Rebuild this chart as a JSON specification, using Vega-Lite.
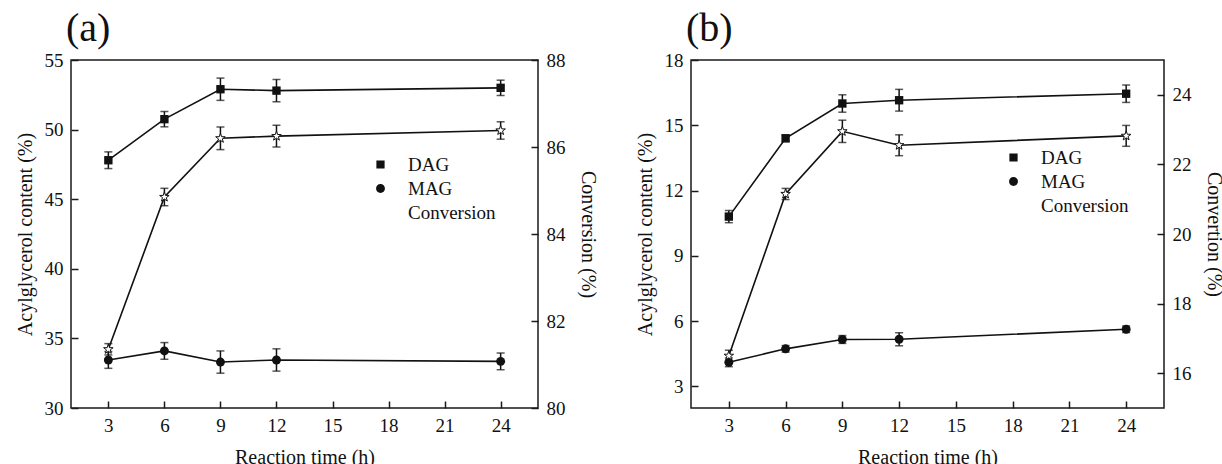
{
  "$schema": "https://vega.github.io/schema/vega-lite/v6.json",
  "padding": {"left": 14, "top": 8, "right": 0, "bottom": 0},
  "background": "white",
  "data": {"values": [
    {"panel": "a", "series": "DAG", "t": 3, "v": 47.8, "e": 0.6},
    {"panel": "a", "series": "DAG", "t": 6, "v": 50.75, "e": 0.55},
    {"panel": "a", "series": "DAG", "t": 9, "v": 52.9, "e": 0.8},
    {"panel": "a", "series": "DAG", "t": 12, "v": 52.8, "e": 0.8},
    {"panel": "a", "series": "DAG", "t": 24, "v": 53.0, "e": 0.55},
    {"panel": "a", "series": "MAG", "t": 3, "v": 33.45, "e": 0.6},
    {"panel": "a", "series": "MAG", "t": 6, "v": 34.1, "e": 0.6},
    {"panel": "a", "series": "MAG", "t": 9, "v": 33.3, "e": 0.8},
    {"panel": "a", "series": "MAG", "t": 12, "v": 33.45, "e": 0.8},
    {"panel": "a", "series": "MAG", "t": 24, "v": 33.35, "e": 0.6},
    {"panel": "a", "series": "Conversion", "t": 3, "v": 81.35, "e": 0.13},
    {"panel": "a", "series": "Conversion", "t": 6, "v": 84.85, "e": 0.2},
    {"panel": "a", "series": "Conversion", "t": 9, "v": 86.2, "e": 0.26},
    {"panel": "a", "series": "Conversion", "t": 12, "v": 86.25, "e": 0.25},
    {"panel": "a", "series": "Conversion", "t": 24, "v": 86.38, "e": 0.2},
    {"panel": "b", "series": "DAG", "t": 3, "v": 10.8, "e": 0.28},
    {"panel": "b", "series": "DAG", "t": 6, "v": 14.4, "e": 0.15},
    {"panel": "b", "series": "DAG", "t": 9, "v": 16.0, "e": 0.4},
    {"panel": "b", "series": "DAG", "t": 12, "v": 16.15, "e": 0.5},
    {"panel": "b", "series": "DAG", "t": 24, "v": 16.45, "e": 0.4},
    {"panel": "b", "series": "MAG", "t": 3, "v": 4.1, "e": 0.2},
    {"panel": "b", "series": "MAG", "t": 6, "v": 4.72, "e": 0.15},
    {"panel": "b", "series": "MAG", "t": 9, "v": 5.15, "e": 0.18},
    {"panel": "b", "series": "MAG", "t": 12, "v": 5.16, "e": 0.3},
    {"panel": "b", "series": "MAG", "t": 24, "v": 5.62, "e": 0.15},
    {"panel": "b", "series": "Conversion", "t": 3, "v": 16.5, "e": 0.16},
    {"panel": "b", "series": "Conversion", "t": 6, "v": 21.15, "e": 0.16},
    {"panel": "b", "series": "Conversion", "t": 9, "v": 22.95, "e": 0.32},
    {"panel": "b", "series": "Conversion", "t": 12, "v": 22.55, "e": 0.3},
    {"panel": "b", "series": "Conversion", "t": 24, "v": 22.82, "e": 0.3}
  ]},
  "spacing": 36,
  "resolve": {
    "scale": {"x": "independent", "y": "independent", "shape": "independent", "fill": "independent"},
    "legend": {"shape": "independent", "fill": "independent"}
  },
  "hconcat": [
    {
      "width": 467,
      "height": 348,
      "title": {"text": "(a)", "anchor": "start", "frame": "group", "dx": -5, "offset": 2},
      "transform": [{"filter": "datum.panel === 'a'"}],
      "resolve": {"scale": {"y": "independent"}},
      "encoding": {
        "x": {"field": "t", "type": "quantitative", "scale": {"domain": [1, 26], "nice": false, "zero": false}, "axis": {"values": [3, 6, 9, 12, 15, 18, 21, 24], "title": "Reaction time (h)"}}
      },
      "layer": [
        {"transform": [{"filter": "datum.series === 'DAG'"}], "mark": {"type": "line", "color": "#111", "strokeWidth": 1.6},
         "encoding": {"y": {"field": "v", "type": "quantitative", "scale": {"domain": [30, 55], "nice": false, "zero": false}, "axis": {"values": [30, 35, 40, 45, 50, 55], "title": "Acylglycerol content (%)"}}}},
        {"transform": [{"filter": "datum.series === 'MAG'"}], "mark": {"type": "line", "color": "#111", "strokeWidth": 1.6},
         "encoding": {"y": {"field": "v", "type": "quantitative", "scale": {"domain": [30, 55], "nice": false, "zero": false}, "axis": null}}},
        {"transform": [{"filter": "datum.series !== 'Conversion'"}], "mark": {"type": "errorbar", "color": "#111", "ticks": true, "size": 8, "thickness": 1.5},
         "encoding": {"y": {"field": "v", "type": "quantitative", "scale": {"domain": [30, 55], "nice": false, "zero": false}, "axis": null}, "yError": {"field": "e"}}},
        {"transform": [{"filter": "datum.series === 'DAG'"}], "mark": {"type": "point", "shape": "square", "filled": true, "color": "#111", "opacity": 1, "size": 70},
         "encoding": {"y": {"field": "v", "type": "quantitative", "scale": {"domain": [30, 55], "nice": false, "zero": false}, "axis": null}}},
        {"transform": [{"filter": "datum.series === 'MAG'"}], "mark": {"type": "point", "shape": "circle", "filled": true, "color": "#111", "opacity": 1, "size": 80},
         "encoding": {"y": {"field": "v", "type": "quantitative", "scale": {"domain": [30, 55], "nice": false, "zero": false}, "axis": null}}},
        {"transform": [{"filter": "datum.series === 'Conversion'"}], "mark": {"type": "line", "color": "#111", "strokeWidth": 1.6},
         "encoding": {"y": {"field": "v", "type": "quantitative", "scale": {"domain": [80, 88], "nice": false, "zero": false}, "axis": {"orient": "right", "values": [80, 82, 84, 86, 88], "title": "Conversion (%)"}}}},
        {"transform": [{"filter": "datum.series === 'Conversion'"}], "mark": {"type": "errorbar", "color": "#111", "ticks": true, "size": 8, "thickness": 1.5},
         "encoding": {"y": {"field": "v", "type": "quantitative", "scale": {"domain": [80, 88], "nice": false, "zero": false}, "axis": null}, "yError": {"field": "e"}}},
        {"transform": [{"filter": "datum.series === 'Conversion'"}], "mark": {"type": "point", "shape": "M0,-1L0.235,-0.324L0.951,-0.309L0.38,0.124L0.588,0.809L0,0.4L-0.588,0.809L-0.38,0.124L-0.951,-0.309L-0.235,-0.324Z", "filled": true, "color": "white", "stroke": "#111", "strokeWidth": 1, "opacity": 1, "size": 100},
         "encoding": {"y": {"field": "v", "type": "quantitative", "scale": {"domain": [80, 88], "nice": false, "zero": false}, "axis": null}}},
        {
          "mark": {"type": "point", "opacity": 0},
          "encoding": {
            "shape": {"field": "series", "type": "nominal", "scale": {"domain": ["DAG", "MAG", "Conversion"], "range": ["M-3,0H3M-0.6,-0.6H0.6V0.6H-0.6Z", "M-3,0H3M0.65,0A0.65,0.65 0 1,1 -0.65,0A0.65,0.65 0 1,1 0.65,0Z", "M-3,0H-0.55M0.55,0H3M0,-0.6L0.14,-0.19L0.57,-0.19L0.23,0.07L0.35,0.49L0,0.24L-0.35,0.49L-0.23,0.07L-0.57,-0.19L-0.14,-0.19Z"]},
              "legend": {"orient": "none", "legendX": 300, "legendY": 95, "title": null, "padding": 0, "symbolSize": 188, "symbolStrokeColor": "#111", "symbolStrokeWidth": 1.5, "symbolOpacity": 1, "labelFontSize": 19, "labelOffset": 18, "rowPadding": 4, "labelColor": "#111"}},
            "fill": {"field": "series", "type": "nominal", "scale": {"domain": ["DAG", "MAG", "Conversion"], "range": ["#111", "#111", "white"]},
              "legend": {"orient": "none", "legendX": 300, "legendY": 95, "title": null, "padding": 0, "symbolSize": 188, "symbolStrokeColor": "#111", "symbolStrokeWidth": 1.5, "symbolOpacity": 1, "labelFontSize": 19, "labelOffset": 18, "rowPadding": 4, "labelColor": "#111"}}
          }
        }
      ]
    },
    {
      "width": 473,
      "height": 348,
      "title": {"text": "(b)", "anchor": "start", "frame": "group", "dx": -5, "offset": 2},
      "transform": [{"filter": "datum.panel === 'b'"}],
      "resolve": {"scale": {"y": "independent"}},
      "encoding": {
        "x": {"field": "t", "type": "quantitative", "scale": {"domain": [1, 26], "nice": false, "zero": false}, "axis": {"values": [3, 6, 9, 12, 15, 18, 21, 24], "title": "Reaction time (h)"}}
      },
      "layer": [
        {"transform": [{"filter": "datum.series === 'DAG'"}], "mark": {"type": "line", "color": "#111", "strokeWidth": 1.6},
         "encoding": {"y": {"field": "v", "type": "quantitative", "scale": {"domain": [2, 18], "nice": false, "zero": false}, "axis": {"values": [3, 6, 9, 12, 15, 18], "title": "Acylglycerol content (%)"}}}},
        {"transform": [{"filter": "datum.series === 'MAG'"}], "mark": {"type": "line", "color": "#111", "strokeWidth": 1.6},
         "encoding": {"y": {"field": "v", "type": "quantitative", "scale": {"domain": [2, 18], "nice": false, "zero": false}, "axis": null}}},
        {"transform": [{"filter": "datum.series !== 'Conversion'"}], "mark": {"type": "errorbar", "color": "#111", "ticks": true, "size": 8, "thickness": 1.5},
         "encoding": {"y": {"field": "v", "type": "quantitative", "scale": {"domain": [2, 18], "nice": false, "zero": false}, "axis": null}, "yError": {"field": "e"}}},
        {"transform": [{"filter": "datum.series === 'DAG'"}], "mark": {"type": "point", "shape": "square", "filled": true, "color": "#111", "opacity": 1, "size": 70},
         "encoding": {"y": {"field": "v", "type": "quantitative", "scale": {"domain": [2, 18], "nice": false, "zero": false}, "axis": null}}},
        {"transform": [{"filter": "datum.series === 'MAG'"}], "mark": {"type": "point", "shape": "circle", "filled": true, "color": "#111", "opacity": 1, "size": 80},
         "encoding": {"y": {"field": "v", "type": "quantitative", "scale": {"domain": [2, 18], "nice": false, "zero": false}, "axis": null}}},
        {"transform": [{"filter": "datum.series === 'Conversion'"}], "mark": {"type": "line", "color": "#111", "strokeWidth": 1.6},
         "encoding": {"y": {"field": "v", "type": "quantitative", "scale": {"domain": [15, 25], "nice": false, "zero": false}, "axis": {"orient": "right", "values": [16, 18, 20, 22, 24], "title": "Convertion (%)"}}}},
        {"transform": [{"filter": "datum.series === 'Conversion'"}], "mark": {"type": "errorbar", "color": "#111", "ticks": true, "size": 8, "thickness": 1.5},
         "encoding": {"y": {"field": "v", "type": "quantitative", "scale": {"domain": [15, 25], "nice": false, "zero": false}, "axis": null}, "yError": {"field": "e"}}},
        {"transform": [{"filter": "datum.series === 'Conversion'"}], "mark": {"type": "point", "shape": "M0,-1L0.235,-0.324L0.951,-0.309L0.38,0.124L0.588,0.809L0,0.4L-0.588,0.809L-0.38,0.124L-0.951,-0.309L-0.235,-0.324Z", "filled": true, "color": "white", "stroke": "#111", "strokeWidth": 1, "opacity": 1, "size": 100},
         "encoding": {"y": {"field": "v", "type": "quantitative", "scale": {"domain": [15, 25], "nice": false, "zero": false}, "axis": null}}},
        {
          "mark": {"type": "point", "opacity": 0},
          "encoding": {
            "shape": {"field": "series", "type": "nominal", "scale": {"domain": ["DAG", "MAG", "Conversion"], "range": ["M-3,0H3M-0.6,-0.6H0.6V0.6H-0.6Z", "M-3,0H3M0.65,0A0.65,0.65 0 1,1 -0.65,0A0.65,0.65 0 1,1 0.65,0Z", "M-3,0H-0.55M0.55,0H3M0,-0.6L0.14,-0.19L0.57,-0.19L0.23,0.07L0.35,0.49L0,0.24L-0.35,0.49L-0.23,0.07L-0.57,-0.19L-0.14,-0.19Z"]},
              "legend": {"orient": "none", "legendX": 313, "legendY": 88, "title": null, "padding": 0, "symbolSize": 188, "symbolStrokeColor": "#111", "symbolStrokeWidth": 1.5, "symbolOpacity": 1, "labelFontSize": 19, "labelOffset": 18, "rowPadding": 4, "labelColor": "#111"}},
            "fill": {"field": "series", "type": "nominal", "scale": {"domain": ["DAG", "MAG", "Conversion"], "range": ["#111", "#111", "white"]},
              "legend": {"orient": "none", "legendX": 313, "legendY": 88, "title": null, "padding": 0, "symbolSize": 188, "symbolStrokeColor": "#111", "symbolStrokeWidth": 1.5, "symbolOpacity": 1, "labelFontSize": 19, "labelOffset": 18, "rowPadding": 4, "labelColor": "#111"}}
          }
        }
      ]
    }
  ],
  "config": {
    "font": "Liberation Serif",
    "view": {"stroke": "#1a1a1a", "strokeWidth": 1.5},
    "title": {"font": "Liberation Serif", "fontSize": 40, "fontWeight": "normal", "color": "#111"},
    "axis": {
      "domain": false, "grid": false, "tickSize": 7, "offset": -7, "tickColor": "#1a1a1a", "tickWidth": 1.5,
      "labelFont": "Liberation Serif", "labelFontSize": 19, "labelColor": "#111", "labelPadding": 8,
      "titleFont": "Liberation Serif", "titleFontSize": 20, "titleFontWeight": "normal", "titleColor": "#111"
    },
    "axisX": {"titlePadding": 12},
    "axisLeft": {"titlePadding": 9},
    "axisRight": {"titlePadding": 12},
    "legend": {"labelFont": "Liberation Serif"}
  }
}
